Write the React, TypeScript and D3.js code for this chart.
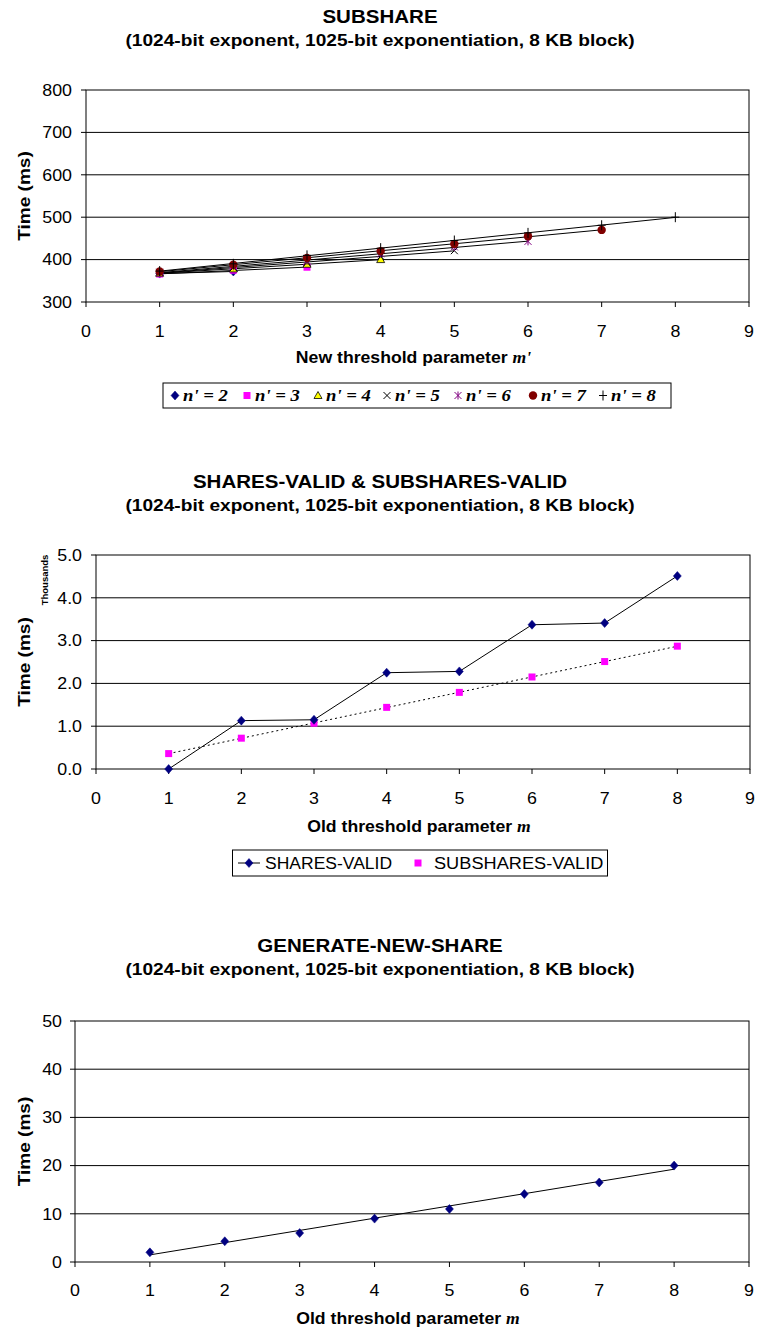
import React from "react";
import * as d3 from "d3";

// ---------- DATA ----------
const xTicks = [0, 1, 2, 3, 4, 5, 6, 7, 8, 9];

// Chart 1: SUBSHARE, series n' = 2..8, points m' = 1..n'
const subshareSeriesNames = ["n' = 2", "n' = 3", "n' = 4", "n' = 5", "n' = 6", "n' = 7", "n' = 8"];
const subN2 = [367, 372];
const subN3 = [366, 375, 382];
const subN4 = [368, 378, 389, 400];
const subN5 = [369, 381, 393, 408, 421];
const subN6 = [370, 384, 397, 414, 430, 443];
const subN7 = [372, 388, 404, 420, 437, 455, 470];
const subN8 = [373, 390, 410, 427, 445, 463, 481, 500];
const subshareYTicks = [300, 400, 500, 600, 700, 800];

// Chart 2: SHARES-VALID & SUBSHARES-VALID (thousands of ms), m = 1..8
const validM = [1, 2, 3, 4, 5, 6, 7, 8];
const sharesValid = [0.0, 1.13, 1.15, 2.25, 2.28, 3.37, 3.41, 4.51];
const subsharesValid = [0.36, 0.72, 1.07, 1.44, 1.79, 2.15, 2.51, 2.87];
const validYTicks = [0, 1, 2, 3, 4, 5];

// Chart 3: GENERATE-NEW-SHARE, m = 1..8
const genM = [1, 2, 3, 4, 5, 6, 7, 8];
const genNewShare = [2.0, 4.3, 6.0, 9.0, 11.0, 14.1, 16.5, 20.0];
const genYTicks = [0, 10, 20, 30, 40, 50];

const subtitleText = "(1024-bit exponent, 1025-bit exponentiation, 8 KB block)";

// ---------- HELPERS ----------
const SANS = "'Liberation Sans', Arial, Helvetica, sans-serif";
const SERIF = "'Liberation Serif', 'Times New Roman', serif";

function linFit(xs: number[], ys: number[]) {
  const mx = d3.mean(xs)!;
  const my = d3.mean(ys)!;
  let num = 0, den = 0;
  xs.forEach((x, i) => { num += (x - mx) * (ys[i] - my); den += (x - mx) * (x - mx); });
  const b = den === 0 ? 0 : num / den;
  const a = my - b * mx;
  return (x: number) => a + b * x;
}

// Stretched text (reference font is slightly wider than Liberation Sans)
function ST({ x, y, sx = 1.1, rot = 0, anchor = "start", size = 16, bold = false, italic = false, family = SANS, children }: {
  x: number; y: number; sx?: number; rot?: number; anchor?: string; size?: number; bold?: boolean; italic?: boolean; family?: string; children: React.ReactNode;
}) {
  return (
    <text
      transform={`translate(${x},${y})${rot ? ` rotate(${rot})` : ""} scale(${sx},1)`}
      dy="0.35em"
      textAnchor={anchor as any}
      fontFamily={family}
      fontSize={size}
      fontWeight={bold ? "bold" : "normal"}
      fontStyle={italic ? "italic" : "normal"}
      fill="#000"
    >
      {children}
    </text>
  );
}

type MarkerKind = "diamond" | "square" | "triangle" | "x" | "star" | "circle" | "plus";

function Marker({ kind, x, y }: { kind: MarkerKind; x: number; y: number }) {
  switch (kind) {
    case "diamond":
      return <path d={`M${x},${y - 4.5}L${x + 4},${y}L${x},${y + 4.5}L${x - 4},${y}Z`} fill="#000080" stroke="#000080" strokeWidth={0.5} />;
    case "square":
      return <rect x={x - 3.5} y={y - 3.5} width={7} height={7} fill="#FF00FF" />;
    case "triangle":
      return <path d={`M${x},${y - 4}L${x + 4},${y + 3}L${x - 4},${y + 3}Z`} fill="#FFFF00" stroke="#000" strokeWidth={0.8} />;
    case "x":
      return <path d={`M${x - 3.5},${y - 3.5}L${x + 3.5},${y + 3.5}M${x + 3.5},${y - 3.5}L${x - 3.5},${y + 3.5}`} stroke="#000" strokeWidth={1} />;
    case "star":
      return <path d={`M${x - 3.5},${y - 3.5}L${x + 3.5},${y + 3.5}M${x + 3.5},${y - 3.5}L${x - 3.5},${y + 3.5}M${x},${y - 4}L${x},${y + 4}`} stroke="#800080" strokeWidth={1} />;
    case "circle":
      return <circle cx={x} cy={y} r={4.2} fill="#800000" />;
    case "plus":
      return <path d={`M${x - 4},${y}L${x + 4},${y}M${x},${y - 5}L${x},${y + 5}`} stroke="#000" strokeWidth={1} />;
  }
}

interface Frame {
  left: number; right: number; top: number; bottom: number;
  yDomain: [number, number]; yTicks: number[]; yFmt: (v: number) => string;
}

function Axes({ f, x, y, labelX, yTitleX, xTickY, xTitleY, xTitle, yTitle }: {
  f: Frame; x: d3.ScaleLinear<number, number>; y: d3.ScaleLinear<number, number>;
  labelX: number; yTitleX: number; xTickY: number; xTitleY: number; xTitle: React.ReactNode; yTitle: string;
}) {
  const yMid = (f.top + f.bottom) / 2;
  return (
    <g>
      {f.yTicks.map((t) => (
        <g key={"g" + t}>
          {t !== f.yDomain[0] && t !== f.yDomain[1] && (
            <line x1={f.left} x2={f.right} y1={y(t)} y2={y(t)} stroke="#000" strokeWidth={1} />
          )}
          <line x1={f.left - 5} x2={f.left} y1={y(t)} y2={y(t)} stroke="#000" />
          <ST x={labelX} y={y(t)} anchor="end" size={16.5} sx={1.08}>{f.yFmt(t)}</ST>
        </g>
      ))}
      <rect x={f.left} y={f.top} width={f.right - f.left} height={f.bottom - f.top} fill="none" stroke="#000" strokeWidth={1} />
      {xTicks.map((t) => (
        <g key={"x" + t}>
          <line x1={x(t)} x2={x(t)} y1={f.bottom} y2={f.bottom + 5} stroke="#000" />
          <ST x={x(t)} y={xTickY} anchor="middle" size={16.5} sx={1.08}>{t}</ST>
        </g>
      ))}
      <ST x={(f.left + f.right) / 2 - 4} y={xTitleY} anchor="middle" size={16.5} bold sx={1.07}>{xTitle}</ST>
      <ST x={yTitleX} y={yMid} rot={-90} anchor="middle" size={17} bold sx={1.12}>{yTitle}</ST>
    </g>
  );
}

function Titles({ cx, y, title }: { cx: number; y: number; title: string }) {
  return (
    <g>
      <ST x={cx} y={y} anchor="middle" size={18} bold sx={1.14}>{title}</ST>
      <ST x={cx} y={y + 23} anchor="middle" size={16.5} bold sx={1.16}>{subtitleText}</ST>
    </g>
  );
}

export default function App() {
  // ---- Chart 1 ----
  const f1: Frame = { left: 86, right: 749, top: 90, bottom: 302, yDomain: [300, 800], yTicks: subshareYTicks, yFmt: (v) => String(v) };
  const x1 = d3.scaleLinear().domain([0, 9]).range([f1.left, f1.right]);
  const y1 = d3.scaleLinear().domain(f1.yDomain).range([f1.bottom, f1.top]);
  const subSeries = [subN2, subN3, subN4, subN5, subN6, subN7, subN8];
  const subKinds: MarkerKind[] = ["diamond", "square", "triangle", "x", "star", "circle", "plus"];
  const legend1X = [175, 247, 318, 387, 458, 533, 603];

  // ---- Chart 2 ----
  const f2: Frame = { left: 96, right: 750, top: 555, bottom: 769, yDomain: [0, 5], yTicks: validYTicks, yFmt: (v) => d3.format(".1f")(v) };
  const x2 = d3.scaleLinear().domain([0, 9]).range([f2.left, f2.right]);
  const y2 = d3.scaleLinear().domain(f2.yDomain).range([f2.bottom, f2.top]);
  const sharesLine = d3.line<number>().x((_, i) => x2(validM[i])).y((d) => y2(d));
  const subFit = linFit(validM, subsharesValid);

  // ---- Chart 3 ----
  const f3: Frame = { left: 75, right: 749, top: 1021, bottom: 1262, yDomain: [0, 50], yTicks: genYTicks, yFmt: (v) => String(v) };
  const x3 = d3.scaleLinear().domain([0, 9]).range([f3.left, f3.right]);
  const y3 = d3.scaleLinear().domain(f3.yDomain).range([f3.bottom, f3.top]);
  const genFit = linFit(genM, genNewShare);

  return (
    <svg width={757} height={1332} style={{ position: "absolute", left: 0, top: 0, background: "#fff" }}>
      <rect width={757} height={1332} fill="#fff" />

      {/* ===== Chart 1 ===== */}
      <Titles cx={380} y={17} title="SUBSHARE" />
      <Axes f={f1} x={x1} y={y1} labelX={72} yTitleX={24} xTickY={331} xTitleY={357}
        xTitle={<>New threshold parameter <tspan fontFamily={SERIF} fontStyle="italic">m'</tspan></>} yTitle="Time (ms)" />
      {subSeries.map((s, si) => {
        const xs = s.map((_, i) => i + 1);
        const fit = linFit(xs, s);
        return (
          <line key={"fit" + si} x1={x1(1)} y1={y1(fit(1))} x2={x1(xs.length)} y2={y1(fit(xs.length))} stroke="#000" strokeWidth={1} />
        );
      })}
      {subSeries.map((s, si) =>
        s.map((v, i) => <Marker key={`m${si}-${i}`} kind={subKinds[si]} x={x1(i + 1)} y={y1(v)} />)
      )}
      {/* legend 1 */}
      <rect x={163} y={383} width={508} height={25} fill="#fff" stroke="#000" strokeWidth={1} />
      {subshareSeriesNames.map((n, i) => (
        <g key={"lg" + i}>
          <Marker kind={subKinds[i]} x={legend1X[i]} y={395.5} />
          <ST x={legend1X[i] + 8} y={395.5} family={SERIF} italic bold size={17} sx={1.1}>{n}</ST>
        </g>
      ))}

      {/* ===== Chart 2 ===== */}
      <Titles cx={380} y={482} title="SHARES-VALID & SUBSHARES-VALID" />
      <Axes f={f2} x={x2} y={y2} labelX={82} yTitleX={24} xTickY={798} xTitleY={826}
        xTitle={<>Old threshold parameter <tspan fontFamily={SERIF} fontStyle="italic">m</tspan></>} yTitle="Time (ms)" />
      <ST x={45} y={580} rot={-90} anchor="middle" size={9.5} bold sx={1.0}>Thousands</ST>
      <line x1={x2(1)} y1={y2(subFit(1))} x2={x2(8)} y2={y2(subFit(8))} stroke="#000" strokeWidth={1} strokeDasharray="2,3" />
      <path d={sharesLine(sharesValid) || ""} fill="none" stroke="#000" strokeWidth={1} />
      {subsharesValid.map((v, i) => <Marker key={"ss" + i} kind="square" x={x2(validM[i])} y={y2(v)} />)}
      {sharesValid.map((v, i) => <Marker key={"sv" + i} kind="diamond" x={x2(validM[i])} y={y2(v)} />)}
      {/* legend 2 */}
      <rect x={232.5} y={850} width={375} height={26} fill="#fff" stroke="#000" strokeWidth={1} />
      <line x1={238} x2={260} y1={863} y2={863} stroke="#000" />
      <Marker kind="diamond" x={249} y={863} />
      <ST x={265} y={863} size={17} sx={1.03}>SHARES-VALID</ST>
      <Marker kind="square" x={418} y={863} />
      <ST x={434} y={863} size={17} sx={1.07}>SUBSHARES-VALID</ST>

      {/* ===== Chart 3 ===== */}
      <Titles cx={380} y={946} title="GENERATE-NEW-SHARE" />
      <Axes f={f3} x={x3} y={y3} labelX={62} yTitleX={24} xTickY={1290} xTitleY={1318}
        xTitle={<>Old threshold parameter <tspan fontFamily={SERIF} fontStyle="italic">m</tspan></>} yTitle="Time (ms)" />
      <line x1={x3(1)} y1={y3(genFit(1))} x2={x3(8)} y2={y3(genFit(8))} stroke="#000" strokeWidth={1} />
      {genNewShare.map((v, i) => <Marker key={"gn" + i} kind="diamond" x={x3(genM[i])} y={y3(v)} />)}
    </svg>
  );
}
